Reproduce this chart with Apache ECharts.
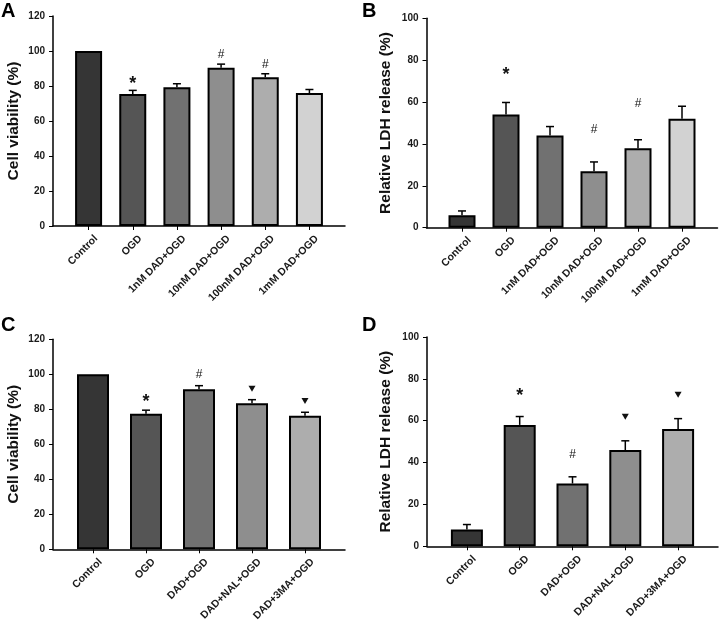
<!DOCTYPE html>
<html>
<head>
<meta charset="utf-8">
<script src="https://cdn.jsdelivr.net/npm/echarts@6/dist/echarts.min.js"></script>
<style>
  html, body { margin: 0; padding: 0; background: #fff; }
  #main { width: 720px; height: 624px; }
</style>
</head>
<body>
<div id="main"></div>
<script>
// categories
const catsDose = ['Control', 'OGD', '1nM DAD+OGD', '10nM DAD+OGD', '100nM DAD+OGD', '1mM DAD+OGD'];
const catsInhib = ['Control', 'OGD', 'DAD+OGD', 'DAD+NAL+OGD', 'DAD+3MA+OGD'];

// A: cell viability, dose series
const viabA = [100, 75.5, 79.3, 90.5, 85, 76];
const viabErrA = [0, 2, 2, 2, 2, 2];
const marksA = ['', '*', '', '#', '#', ''];
const markYA = [null, 83, null, 98, 92, null];

// B: LDH release, dose series
const ldhB = [6, 54, 44, 27, 38, 52];
const ldhErrB = [2, 5.8, 4.3, 4.4, 4, 6];
const marksB = ['', '*', '', '#', '#', ''];
const markYB = [null, 74.5, null, 47, 59, null];

// C: cell viability, inhibitors
const viabC = [100, 77.5, 91.5, 83.5, 76.3];
const viabErrC = [0, 2, 2, 2, 2];
const marksC = ['', '*', '#', 'tri', 'tri'];
const markYC = [null, 85.7, 100, 91.8, 84.7];

// D: LDH release, inhibitors
const ldhD = [8, 58, 30, 46, 56];
const ldhErrD = [2.4, 4, 3.2, 4.4, 5];
const marksD = ['', '*', '#', 'tri', 'tri'];
const markYD = [null, 73, 43.6, 61.9, 72.4];

const greys = ['#353535', '#555555', '#717171', '#8e8e8e', '#adadad', '#d2d2d2'];
const font = '"Liberation Sans", Arial, sans-serif';

const myChart = echarts.init(document.getElementById('main'));

const panels = [
  { letter: 'A', cats: catsDose, vals: viabA, errs: viabErrA, marks: marksA, markY: markYA,
    max: 120, name: 'Cell viability (%)', grid: { left: 53, top: 16, width: 292, height: 210 },
    letterPos: [1, 1], barW: 27, nameGap: 31 },
  { letter: 'B', cats: catsDose, vals: ldhB, errs: ldhErrB, marks: marksB, markY: markYB,
    max: 100, name: 'Relative LDH release (%)', grid: { left: 426.5, top: 18.3, width: 291, height: 209.4 },
    letterPos: [362, 1], barW: 27, nameGap: 33 },
  { letter: 'C', cats: catsInhib, vals: viabC, errs: viabErrC, marks: marksC, markY: markYC,
    max: 120, name: 'Cell viability (%)', grid: { left: 53, top: 339.3, width: 292, height: 210 },
    letterPos: [1, 315], barW: 32, nameGap: 31 },
  { letter: 'D', cats: catsInhib, vals: ldhD, errs: ldhErrD, marks: marksD, markY: markYD,
    max: 100, name: 'Relative LDH release (%)', grid: { left: 427, top: 337, width: 291, height: 209.3 },
    letterPos: [362, 315], barW: 32, nameGap: 33 }
];

const grids = [], xAxes = [], yAxes = [], series = [], titles = [];

panels.forEach(function (p, k) {
  const n = p.cats.length;
  // slot width in px, with ~13.5px spare at each end of the axis
  const slot = (p.grid.width - 27) / n;
  const pad = 0.5 + 13.5 / slot;
  const shift = 7.5 / slot;   // labels sit a little right of their tick
  const idx = p.cats.map(function (c, i) { return i; });

  grids.push(p.grid);
  titles.push({
    text: p.letter, left: p.letterPos[0], top: p.letterPos[1], padding: 0,
    textStyle: { fontFamily: font, fontSize: 20, fontWeight: 'bold', color: '#000' }
  });
  xAxes.push({
    type: 'value', gridIndex: k, min: -pad, max: n - 1 + pad,
    splitLine: { show: false },
    axisLine: { onZero: false, lineStyle: { color: '#000', width: 1.5 } },
    axisTick: { customValues: idx, length: 4, lineStyle: { color: '#000' } },
    axisLabel: {
      customValues: idx.map(function (i) { return i + shift; }), rotate: 45, margin: 11,
      formatter: function (v) { return p.cats[Math.round(v - shift)]; },
      fontFamily: font, fontSize: 10.5, fontWeight: 'bold', color: '#1a1a1a'
    }
  });
  yAxes.push({
    type: 'value', gridIndex: k, min: 0, max: p.max, interval: 20,
    name: p.name, nameLocation: 'middle', nameGap: p.nameGap,
    nameTextStyle: { fontFamily: font, fontSize: 15.5, fontWeight: 'bold', color: '#111' },
    splitLine: { show: false },
    axisLine: { show: true, onZero: false, lineStyle: { color: '#000', width: 1.5 } },
    axisTick: { show: true, length: 4, lineStyle: { color: '#000' } },
    axisLabel: { fontFamily: font, fontSize: 10, fontWeight: 'bold', color: '#1a1a1a', margin: 8 }
  });

  series.push({
    type: 'custom', xAxisIndex: k, yAxisIndex: k, z: 1,
    data: p.vals.map(function (v, i) { return [i, v, p.errs[i]]; }),
    encode: { x: 0, y: 1 },
    renderItem: function (params, api) {
      const e = api.value(2);
      if (!e) return;
      const base = api.coord([api.value(0), api.value(1)]);
      const top = api.coord([api.value(0), api.value(1) + e]);
      const st = { stroke: '#000', lineWidth: 1.5 };
      return {
        type: 'group', children: [
          { type: 'line', shape: { x1: base[0], y1: base[1], x2: top[0], y2: top[1] }, style: st },
          { type: 'line', shape: { x1: top[0] - 4, y1: top[1], x2: top[0] + 4, y2: top[1] }, style: st }
        ]
      };
    }
  });
  series.push({
    type: 'bar', xAxisIndex: k, yAxisIndex: k, barWidth: p.barW, z: 2,
    data: p.vals.map(function (v, i) {
      return { value: [i, v], itemStyle: { color: greys[i] } };
    }),
    itemStyle: { borderColor: '#000', borderWidth: 2 }
  });
  series.push({
    type: 'custom', xAxisIndex: k, yAxisIndex: k, z: 3,
    data: p.markY.map(function (y, i) { return [i, y == null ? 0 : y, p.marks[i]]; }),
    encode: { x: 0, y: 1 },
    renderItem: function (params, api) {
      const m = p.marks[params.dataIndex];
      if (!m) return;
      const c = api.coord([api.value(0), api.value(1)]);
      if (m === 'tri') {
        return {
          type: 'polygon',
          shape: { points: [[c[0] - 3.5, c[1] - 3], [c[0] + 3.5, c[1] - 3], [c[0], c[1] + 3]] },
          style: { fill: '#111' }
        };
      }
      return {
        type: 'text', x: c[0], y: m === '*' ? c[1] + 3 : c[1],
        style: {
          text: m, align: 'center', verticalAlign: 'middle',
          font: m === '*' ? 'bold 18px ' + font : '12px ' + font, fill: '#111'
        }
      };
    }
  });
});

const option = {
  animation: false,
  title: titles,
  grid: grids,
  xAxis: xAxes,
  yAxis: yAxes,
  series: series
};
myChart.setOption(option);
</script>
</body>
</html>
